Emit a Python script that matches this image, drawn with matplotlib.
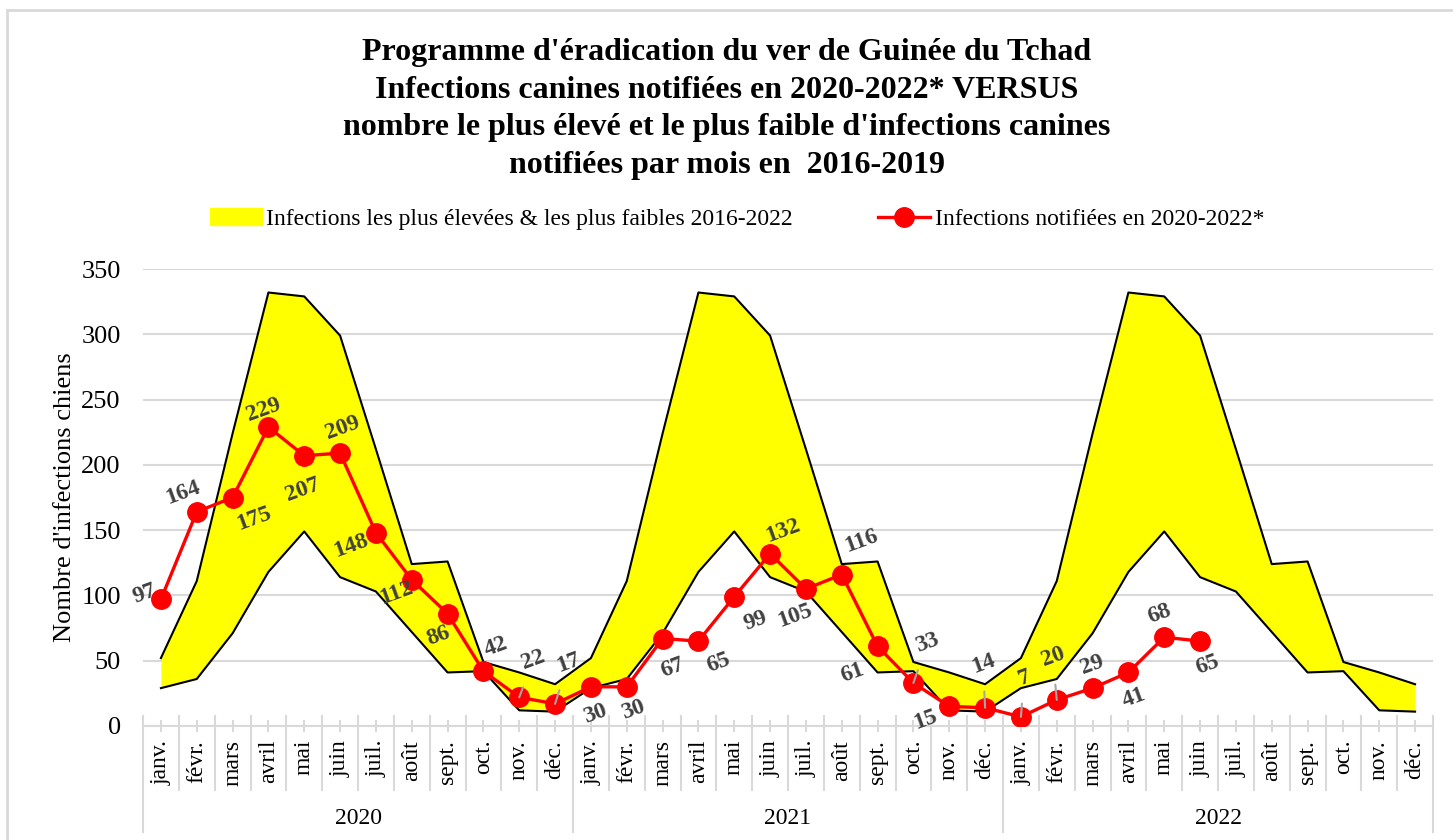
import matplotlib.pyplot as plt
from matplotlib.patches import Rectangle
from matplotlib.lines import Line2D
from matplotlib.transforms import blended_transform_factory
import numpy as np

plt.rcParams["font.family"] = ["Liberation Serif", "DejaVu Serif"]

months = ["janv.", "févr.", "mars", "avril", "mai", "juin",
          "juil.", "août", "sept.", "oct.", "nov.", "déc."]
years = ["2020", "2021", "2022"]

# highest / lowest monthly counts (same band repeated each year)
band_high = [52, 111, 224, 332, 329, 299, 212, 124, 126, 49, 41, 32]
band_low = [29, 36, 71, 118, 149, 114, 103, 72, 41, 42, 12, 11]

# notified infections 2020-2022*
notified = [97, 164, 175, 229, 207, 209, 148, 112, 86, 42, 22, 17,
            30, 30, 67, 65, 99, 132, 105, 116, 61, 33, 15, 14,
            7, 20, 29, 41, 68, 65]

# label offsets in pixels (dx, dy) and which labels get a leader line
label_offsets = [(-16, 6), (-14, 19), (21, -21), (-5, 17), (-2, -34), (3, 25),
                 (-25, -13), (-15, -13), (-9, -22), (12, 24), (14, 37), (13, 41),
                 (4, -27), (6, -23), (10, -29), (20, -22), (21, -24), (13, 23),
                 (-11, -27), (20, 34), (-25, -26), (14, 40), (-24, -13), (-2, 44),
                 (3, 39), (-4, 43), (0, 23), (5, -25), (-5, 23), (7, -24)]
leaders = {10, 11, 21, 23, 24, 25}

GRID = "#d9d9d9"
LABEL = "#404040"

high = np.tile(band_high, len(years))
low = np.tile(band_low, len(years))
x_all = np.arange(len(high))
x_obs = np.arange(len(notified))

fig = plt.figure(figsize=(14.53, 8.40), dpi=100)
ax = fig.add_axes([143 / 1453, 1 - 726 / 840, (1433 - 143) / 1453, (726 - 269) / 840])

# outer chart frame (left and top edges visible)
fig.add_artist(Line2D([7 / 1453, 7 / 1453], [0, 1 - 10 / 840], transform=fig.transFigure,
                      color=GRID, lw=2))
fig.add_artist(Line2D([7 / 1453, 1], [1 - 10 / 840, 1 - 10 / 840], transform=fig.transFigure,
                      color=GRID, lw=2))

ax.fill_between(x_all, low, high, color="#ffff00", lw=0, zorder=1)
ax.plot(x_all, high, color="black", lw=1.5, zorder=2)
ax.plot(x_all, low, color="black", lw=1.5, zorder=2)
ax.plot(x_obs, notified, color="#ff0000", lw=2.4, marker="o", markersize=14, zorder=4)

for i, (v, (dx, dy)) in enumerate(zip(notified, label_offsets)):
    arrow = None
    if i in leaders:
        arrow = dict(arrowstyle="-", color="#a6a6a6", lw=1.5, shrinkA=8, shrinkB=0)
    ax.annotate(str(v), xy=(i, v), xytext=(dx, dy), textcoords="offset pixels",
                ha="center", va="center", rotation=20, fontsize=17, fontweight="bold",
                color=LABEL, arrowprops=arrow, zorder=5)

ax.set_xlim(-0.5, len(high) - 0.5)
ax.set_ylim(0, 350)
ax.set_yticks(np.arange(0, 351, 50))
ax.yaxis.grid(True, color=GRID, lw=1.5)
ax.set_axisbelow(True)
for side in ["top", "right", "left"]:
    ax.spines[side].set_visible(False)
ax.spines["bottom"].set_color(GRID)
ax.spines["bottom"].set_linewidth(1.5)
ax.tick_params(axis="y", length=0, labelsize=19, pad=16)
ax.set_ylabel("Nombre d'infections chiens", fontsize=19, labelpad=4)

ax.set_xticks(x_all)
ax.set_xticklabels(months * len(years), rotation=90, fontsize=17)
ax.tick_params(axis="x", direction="inout", length=8, color=GRID, width=1.5, pad=6)

# category separators and year group labels below the axis
trans = blended_transform_factory(ax.transData, fig.transFigure)
for b in np.arange(-0.5, len(high), 1.0):
    is_year = abs((b + 0.5) % 12) < 1e-9
    y_end = 1 - 832 / 840 if is_year else 1 - 790 / 840
    ax.add_line(Line2D([b, b], [1 - 716 / 840, y_end], transform=trans, color=GRID,
                       lw=1.5, clip_on=False))
for k, yr in enumerate(years):
    ax.text(k * 12 + 5.5, 1 - 818 / 840, yr, transform=trans, ha="center", va="center",
            fontsize=17)

fig.text(727 / 1453, 1 - 109 / 840,
         "Programme d'éradication du ver de Guinée du Tchad\n"
         "Infections canines notifiées en 2020-2022* VERSUS\n"
         "nombre le plus élevé et le plus faible d'infections canines\n"
         "notifiées par mois en  2016-2019",
         ha="center", va="center", fontsize=23, fontweight="bold", linespacing=1.4)

handles = [Rectangle((0, 0), 1, 1, color="#ffff00"),
           Line2D([], [], color="#ff0000", lw=2.4, marker="o", markersize=14)]
fig.legend(handles, ["Infections les plus élevées & les plus faibles 2016-2022",
                     "Infections notifiées en 2020-2022*"],
           loc="center", bbox_to_anchor=(737 / 1453, 1 - 219 / 840), ncol=2, frameon=False,
           fontsize=17, handlelength=2.2, handletextpad=0.2, columnspacing=3.6)

fig.savefig("out.png", dpi=100)
